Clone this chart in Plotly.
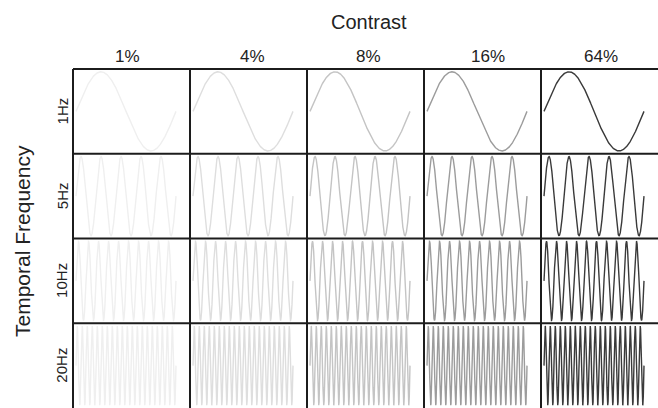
import numpy as np
import plotly.graph_objects as go

# ---- data ----
contrast_labels = ["1%", "4%", "8%", "16%", "64%"]
contrast_values = [1, 4, 8, 16, 64]
freq_labels = ["1Hz", "5Hz", "10Hz", "20Hz"]
freq_values = [1, 5, 10, 20]
duration_s = 1.0

# ---- styles ----
line_colors = ["#efefef", "#dedede", "#c4c4c4", "#9c9c9c", "#3a3a3a"]
label_xshift = [-4, 4, 3, 5, 1]
FONT = "Liberation Sans, Arial, Helvetica, sans-serif"
TXT = "#222222"
BORDER = "#1c1c1c"

n_rows, n_cols = len(freq_values), len(contrast_values)
W, H = 658, 408
ML, MT = 73, 69
pw, ph = W - ML, H - MT

fig = go.Figure()
layout = {}
t = np.linspace(0, duration_s, 4001)

for r, f in enumerate(freq_values):
    for c, cval in enumerate(contrast_values):
        idx = r * n_cols + c + 1
        xs = "" if idx == 1 else str(idx)
        y = np.sin(2 * np.pi * f * t)
        fig.add_trace(go.Scatter(
            x=t, y=y, mode="lines",
            line=dict(color=line_colors[c], width=1.4),
            xaxis="x" + xs, yaxis="y" + xs,
            hoverinfo="skip", showlegend=False,
        ))
        layout["xaxis" + xs] = dict(
            domain=[c / n_cols, (c + 1) / n_cols],
            range=[-0.03, 1.14], showgrid=False, zeroline=False,
            showticklabels=False, ticks="", showline=False,
            anchor="y" + xs, fixedrange=True,
        )
        layout["yaxis" + xs] = dict(
            domain=[1 - (r + 1) / n_rows, 1 - r / n_rows],
            range=[-1.07, 1.07], showgrid=False, zeroline=False,
            showticklabels=False, ticks="", showline=False,
            anchor="x" + xs, fixedrange=True,
        )

shapes = []
for c in range(n_cols):
    shapes.append(dict(type="line", xref="paper", yref="paper",
                       x0=c / n_cols, x1=c / n_cols, y0=-0.02, y1=1.0,
                       line=dict(color=BORDER, width=2)))
for r in range(n_rows):
    yv = 1 - r / n_rows
    shapes.append(dict(type="line", xref="paper", yref="paper",
                       x0=0, x1=1.02, y0=yv, y1=yv,
                       line=dict(color=BORDER, width=2)))

annotations = []
annotations.append(dict(text="Contrast", xref="paper", yref="paper",
                        x=0.5 + 3 / pw, y=1 + (MT - 22) / ph,
                        xanchor="center", yanchor="middle", showarrow=False,
                        font=dict(family=FONT, size=20, color=TXT)))
for c, lab in enumerate(contrast_labels):
    annotations.append(dict(text=lab, xref="paper", yref="paper",
                            x=(c + 0.5) / n_cols, y=1 + (MT - 56) / ph,
                            xshift=label_xshift[c],
                            xanchor="center", yanchor="middle", showarrow=False,
                            font=dict(family=FONT, size=17, color=TXT)))
for r, lab in enumerate(freq_labels):
    annotations.append(dict(text=lab, xref="paper", yref="paper",
                            x=(62 - ML) / pw, y=1 - (r + 0.5) / n_rows,
                            xanchor="center", yanchor="middle", showarrow=False,
                            textangle=-90,
                            font=dict(family=FONT, size=15, color=TXT)))
annotations.append(dict(text="Temporal Frequency", xref="paper", yref="paper",
                        x=(22 - ML) / pw, y=1 - (241 - MT) / ph,
                        xanchor="center", yanchor="middle", showarrow=False,
                        textangle=-90,
                        font=dict(family=FONT, size=21, color=TXT)))

fig.update_layout(
    width=W, height=H,
    margin=dict(l=ML, r=0, t=MT, b=0, pad=0),
    paper_bgcolor="white", plot_bgcolor="white",
    shapes=shapes, annotations=annotations,
    **layout,
)

fig.write_html("out.html", config={"displayModeBar": False},
               post_script="document.body.style.margin='0';document.body.style.overflow='hidden';")
